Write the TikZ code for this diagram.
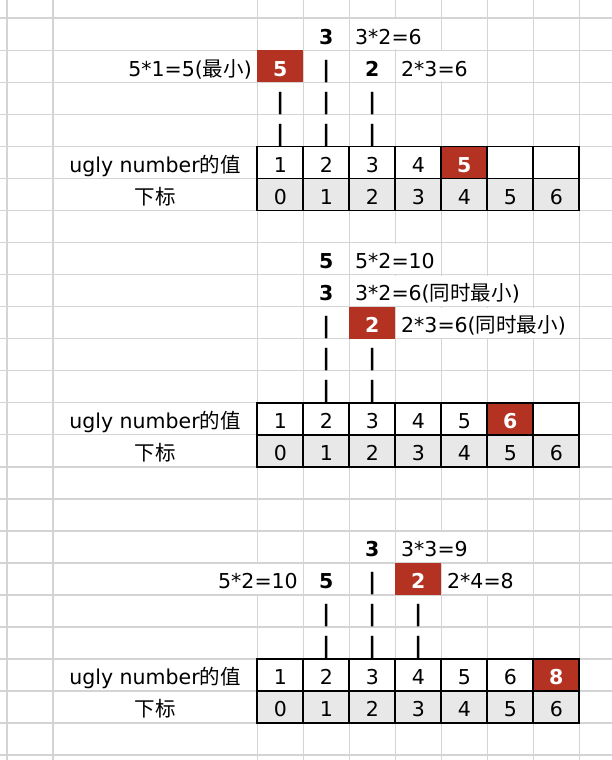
\documentclass[tikz,border=0pt]{standalone}
\usepackage{fontspec}
\setmainfont{DejaVu Sans}
\newfontfamily\cjk{Noto Sans CJK SC}
\definecolor{gridc}{HTML}{D4D4D4}
\definecolor{redc}{HTML}{B33222}
\definecolor{idxc}{HTML}{E8E8E8}
\newcommand\fsz{\fontsize{20.5}{23}\selectfont}
\newcommand\barsz{\fontsize{22.5}{25}\selectfont}
\newcommand\coverspan[3]{\fill[white] ({#1+1},{18.3+32.03*#3+1}) rectangle ({#2-1},{18.3+32.03*(#3+1)-1});}
\begin{document}
\begin{tikzpicture}[x=1pt,y=-1pt,
  gridline/.style={draw=gridc,line width=1.6pt},
  cellbox/.style={draw=black,line width=1.8pt,minimum width=46pt,minimum height=32.03pt,inner sep=0pt,outer sep=0pt,text height=20pt,text depth=0pt,font=\fsz},
  valcell/.style={cellbox,fill=white},
  idxcell/.style={cellbox,fill=idxc},
  hotcell/.style={cellbox,fill=redc,text=white,font=\fsz\bfseries},
  redmark/.style={fill=redc,text=white,font=\fsz\bfseries,minimum width=46pt,minimum height=32.03pt,inner sep=0pt,outer sep=0pt,text height=20pt,text depth=0pt},
  txt/.style={font=\fsz,inner sep=0pt,anchor=base},
  btxt/.style={txt,font=\fsz\bfseries},
  bartxt/.style={txt,font=\barsz\bfseries,yshift=-0.8pt},
  ltxt/.style={txt,anchor=base west},
  rtxt/.style={txt,anchor=base east}
]
\useasboundingbox[fill=white] (0,0) rectangle (612,760);
% spreadsheet grid
\foreach \k in {0,...,23} \draw[gridline] (0,{18.3+32.03*\k}) -- (612,{18.3+32.03*\k});
\foreach \x in {6.7,52.7,257.3,303.3,349.3,395.3,441.3,487.3,533.3,579.3} \draw[gridline] (\x,0) -- (\x,760);
% overflowing texts hide inner grid lines
\coverspan{349.3}{441.3}{0}
\coverspan{395.3}{487.3}{1}
\coverspan{349.3}{441.3}{7}
\coverspan{349.3}{533.3}{8}
\coverspan{395.3}{579.3}{9}
\coverspan{395.3}{487.3}{16}
\coverspan{52.7}{303.3}{17}
\coverspan{441.3}{533.3}{17}

% ---------- table 1 ----------
\node[btxt] (a3) at ({280.3+46*1},{18.3+32.03*1-6}) {3};
\node[ltxt] (a3e) at (355,{18.3+32.03*1-6}) {3*2=6};
\node[rtxt] (a5e) at (252,{18.3+32.03*2-6}) {5*1=5({\cjk 最小})};
\node[redmark] (a5) at ({280.3},{18.3+32.03*1.5}) {5};
\node[bartxt] (abar1) at ({280.3+46*1},{18.3+32.03*2-6}) {|};
\node[btxt] (a2) at ({280.3+46*2},{18.3+32.03*2-6}) {2};
\node[ltxt] (a2e) at (401,{18.3+32.03*2-6}) {2*3=6};
\foreach \k in {2,3} \foreach \i in {0,1,2}
  \node[bartxt] (abar\k\i) at ({280.3+46*\i},{18.3+32.03*(\k+1)-6}) {|};
\node[txt] (alab) at (155,{18.3+32.03*5-6}) {ugly number{\cjk 的值}};
\node[txt] (aidxlab) at (155,{18.3+32.03*6-6}) {{\cjk 下标}};
\foreach \v [count=\i from 0] in {1,2,3,4}
  \node[valcell] (aval\i) at ({280.3+46*\i},{18.3+32.03*4.5}) {\v};
\node[hotcell] (aval4) at ({280.3+46*4},{18.3+32.03*4.5}) {5};
\foreach \i in {5,6}
  \node[valcell] (aval\i) at ({280.3+46*\i},{18.3+32.03*4.5}) {};
\foreach \i in {0,...,6}
  \node[idxcell] (aidx\i) at ({280.3+46*\i},{18.3+32.03*5.5}) {\i};

% ---------- table 2 ----------
\node[btxt] (b5) at ({280.3+46*1},{18.3+32.03*8-6}) {5};
\node[ltxt] (b5e) at (355,{18.3+32.03*8-6}) {5*2=10};
\node[btxt] (b3) at ({280.3+46*1},{18.3+32.03*9-6}) {3};
\node[ltxt] (b3e) at (355,{18.3+32.03*9-6}) {3*2=6({\cjk 同时最小})};
\node[bartxt] (bbar9) at ({280.3+46*1},{18.3+32.03*10-6}) {|};
\node[redmark] (b2) at ({280.3+46*2},{18.3+32.03*9.5}) {2};
\node[ltxt] (b2e) at (401,{18.3+32.03*10-6}) {2*3=6({\cjk 同时最小})};
\foreach \k in {10,11} \foreach \i in {1,2}
  \node[bartxt] (bbar\k\i) at ({280.3+46*\i},{18.3+32.03*(\k+1)-6}) {|};
\node[txt] (blab) at (155,{18.3+32.03*13-6}) {ugly number{\cjk 的值}};
\node[txt] (bidxlab) at (155,{18.3+32.03*14-6}) {{\cjk 下标}};
\foreach \v [count=\i from 0] in {1,2,3,4,5}
  \node[valcell] (bval\i) at ({280.3+46*\i},{18.3+32.03*12.5}) {\v};
\node[hotcell] (bval5) at ({280.3+46*5},{18.3+32.03*12.5}) {6};
\node[valcell] (bval6) at ({280.3+46*6},{18.3+32.03*12.5}) {};
\foreach \i in {0,...,6}
  \node[idxcell] (bidx\i) at ({280.3+46*\i},{18.3+32.03*13.5}) {\i};

% ---------- table 3 ----------
\node[btxt] (c3) at ({280.3+46*2},{18.3+32.03*17-6}) {3};
\node[ltxt] (c3e) at (401,{18.3+32.03*17-6}) {3*3=9};
\node[rtxt] (c5e) at (298,{18.3+32.03*18-6}) {5*2=10};
\node[btxt] (c5) at ({280.3+46*1},{18.3+32.03*18-6}) {5};
\node[bartxt] (cbar17) at ({280.3+46*2},{18.3+32.03*18-6}) {|};
\node[redmark] (c2) at ({280.3+46*3},{18.3+32.03*17.5}) {2};
\node[ltxt] (c2e) at (447,{18.3+32.03*18-6}) {2*4=8};
\foreach \k in {18,19} \foreach \i in {1,2,3}
  \node[bartxt] (cbar\k\i) at ({280.3+46*\i},{18.3+32.03*(\k+1)-6}) {|};
\node[txt] (clab) at (155,{18.3+32.03*21-6}) {ugly number{\cjk 的值}};
\node[txt] (cidxlab) at (155,{18.3+32.03*22-6}) {{\cjk 下标}};
\foreach \v [count=\i from 0] in {1,2,3,4,5,6}
  \node[valcell] (cval\i) at ({280.3+46*\i},{18.3+32.03*20.5}) {\v};
\node[hotcell] (cval6) at ({280.3+46*6},{18.3+32.03*20.5}) {8};
\foreach \i in {0,...,6}
  \node[idxcell] (cidx\i) at ({280.3+46*\i},{18.3+32.03*21.5}) {\i};
\end{tikzpicture}
\end{document}
